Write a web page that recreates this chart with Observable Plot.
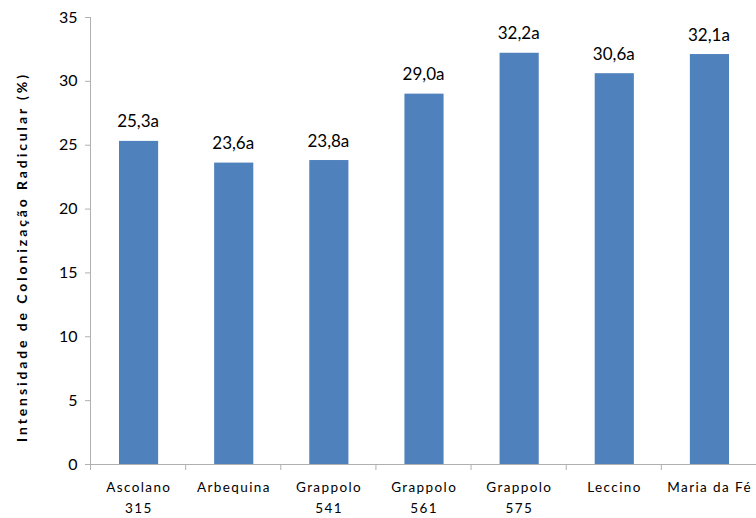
<!DOCTYPE html>
<html>
<head>
<meta charset="utf-8">
<script src="https://cdn.jsdelivr.net/npm/d3@7"></script>
<script src="https://cdn.jsdelivr.net/npm/@observablehq/plot@0.6"></script>
<style>
  body { margin: 0; background: #fff; }
  #chart svg { display: block; }
</style>
</head>
<body>
<div id="chart"></div>
<script>
const categories = ["Ascolano\n315", "Arbequina", "Grappolo\n541", "Grappolo\n561", "Grappolo\n575", "Leccino", "Maria da Fé"];
const values = [25.3, 23.6, 23.8, 29.0, 32.2, 30.6, 32.1];
const valueLabels = ["25,3a", "23,6a", "23,8a", "29,0a", "32,2a", "30,6a", "32,1a"];
const yTicks = [0, 5, 10, 15, 20, 25, 30, 35];
const yLabel = "Intensidade de Colonização Radicular (%)";

const data = categories.map((c, i) => ({i, c, v: values[i], label: valueLabels[i]}));
const bounds = d3.range(categories.length + 1);

const chart = Plot.plot({
  width: 756,
  height: 518,
  marginLeft: 90,
  marginRight: 0,
  marginTop: 17,
  marginBottom: 54,
  style: {fontFamily: "Lato, 'Open Sans', sans-serif", color: "#000", background: "#fff"},
  x: {type: "linear", domain: [0, categories.length], axis: null},
  y: {domain: [0, 35], axis: null},
  marks: [
    Plot.rectY(data, {x1: d => d.i, x2: d => d.i + 1, y: "v", fill: "#4F81BD", insetLeft: 29, insetRight: 27}),
    Plot.ruleY([0], {stroke: "#b0b0b0", strokeWidth: 1}),
    Plot.ruleX([0], {stroke: "#b0b0b0", strokeWidth: 1}),
    Plot.axisY({ticks: yTicks, tickSize: 5, tickPadding: 8, stroke: "#b0b0b0", fontSize: 16, tickFormat: d => d, label: null}),
    Plot.axisX({ticks: bounds, tickSize: 6, stroke: "#b0b0b0", tickFormat: () => "", label: null}),
    Plot.text(data, {x: d => d.i + 0.5, y: 0, text: "c", dy: 13, dx: 0.7, fontSize: 13.5, lineHeight: 1.55, lineAnchor: "top", fill: "#000"}),
    Plot.text(data, {x: d => d.i + 0.5, y: "v", text: "label", dy: -14, lineAnchor: "bottom", fontSize: 17, fill: "#000"}),
    Plot.text([yLabel], {frameAnchor: "left", dx: -68, dy: 16, rotate: -90, textAnchor: "middle", fontSize: 14, fontWeight: "bold", fill: "#000"})
  ]
});
const catLines = new Set(categories.flatMap(c => c.split("\n")));
d3.select(chart).selectAll("text").each(function () {
  const t = this.textContent;
  if (t === yLabel) this.style.letterSpacing = "2.9px";
  else if (this.querySelector("tspan") ? [...this.querySelectorAll("tspan")].some(s => catLines.has(s.textContent)) : catLines.has(t)) this.style.letterSpacing = "1.4px";
});
document.getElementById("chart").appendChild(chart);
</script>
</body>
</html>
